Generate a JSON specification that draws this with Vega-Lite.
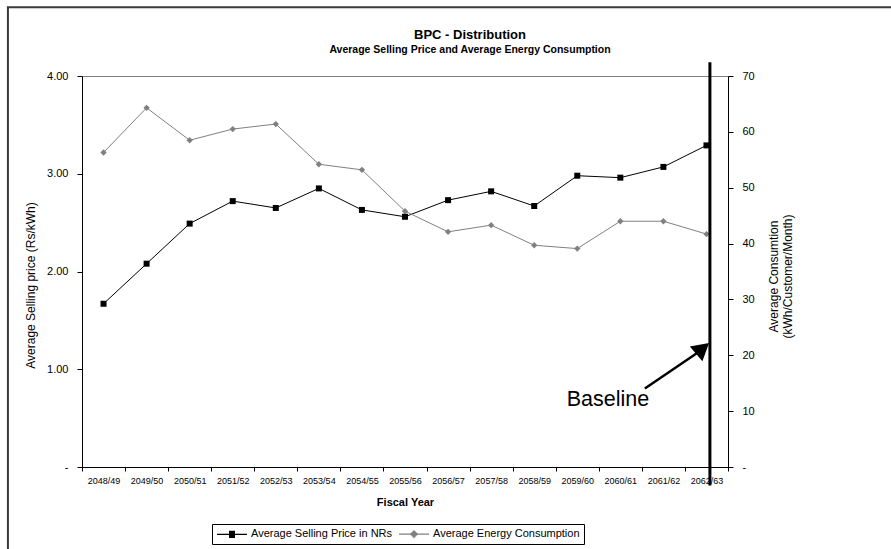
{
  "$schema": "https://vega.github.io/schema/vega-lite/v6.json",
  "autosize": "none",
  "width": 646,
  "height": 391,
  "padding": {"left": 82, "top": 76, "right": 163, "bottom": 82},
  "background": "white",
  "title": {
    "text": "BPC - Distribution",
    "subtitle": "Average Selling Price and Average Energy Consumption",
    "anchor": "middle",
    "dx": 65,
    "offset": -49,
    "font": "Liberation Sans",
    "fontSize": 13,
    "fontWeight": "bold",
    "color": "black",
    "subtitleFont": "Liberation Sans",
    "subtitleFontSize": 10.5,
    "subtitleFontWeight": "bold",
    "subtitleColor": "black",
    "subtitlePadding": 3
  },
  "datasets": {
    "series": [
      {"year": "2048/49", "price": 1.67, "consumption": 56.3},
      {"year": "2049/50", "price": 2.08, "consumption": 64.3},
      {"year": "2050/51", "price": 2.49, "consumption": 58.5},
      {"year": "2051/52", "price": 2.72, "consumption": 60.5},
      {"year": "2052/53", "price": 2.65, "consumption": 61.4},
      {"year": "2053/54", "price": 2.85, "consumption": 54.2},
      {"year": "2054/55", "price": 2.63, "consumption": 53.2},
      {"year": "2055/56", "price": 2.56, "consumption": 45.8},
      {"year": "2056/57", "price": 2.73, "consumption": 42.1},
      {"year": "2057/58", "price": 2.82, "consumption": 43.3},
      {"year": "2058/59", "price": 2.67, "consumption": 39.7},
      {"year": "2059/60", "price": 2.98, "consumption": 39.1},
      {"year": "2060/61", "price": 2.96, "consumption": 44.0},
      {"year": "2061/62", "price": 3.07, "consumption": 44.0},
      {"year": "2062/63", "price": 3.29, "consumption": 41.7}
    ],
    "legendItems": [
      {"series": "Average Selling Price in NRs"},
      {"series": "Average Energy Consumption"}
    ],
    "border": [{"x1": -1.72, "x2": 19.6, "y1": 4.703, "y2": -1.0}],
    "baseline": [{"x": 14.58, "y1": 4.14, "y2": -0.19}],
    "shaft": [{"x1": 13.07, "y1": 0.803, "x2": 14.30, "y2": 1.172}],
    "head": [{"x": 14.41, "y": 1.213}],
    "label": [{"x": 12.213, "y": 0.619, "text": "Baseline"}]
  },
  "config": {
    "font": "Liberation Sans",
    "view": {"stroke": "#808080", "strokeWidth": 1},
    "axis": {"domainColor": "black", "tickColor": "black", "labelColor": "black", "titleColor": "black", "grid": false, "labelFont": "Liberation Sans", "titleFont": "Liberation Sans"}
  },
  "resolve": {
    "scale": {"x": "independent", "y": "independent"},
    "axis": {"x": "independent", "y": "independent"}
  },
  "layer": [
    {
      "data": {"name": "border"},
      "mark": {"type": "rect", "filled": false, "stroke": "#3a3a3a", "strokeWidth": 2, "clip": false},
      "encoding": {
        "x": {"field": "x1", "type": "quantitative", "scale": {"domain": [0, 15], "nice": false, "zero": false}, "axis": null},
        "x2": {"field": "x2"},
        "y": {"field": "y1", "type": "quantitative", "scale": {"domain": [0, 4], "nice": false, "zero": false}, "axis": null},
        "y2": {"field": "y2"}
      }
    },
    {
      "data": {"name": "series"},
      "mark": {"type": "line", "color": "black", "strokeWidth": 1},
      "encoding": {
        "x": {"field": "year", "type": "nominal", "sort": null,
          "scale": {"type": "band", "paddingInner": 0, "paddingOuter": 0},
          "axis": {"title": "Fiscal Year", "orient": "bottom", "tickBand": "extent", "labelAngle": 0, "labelFontSize": 9, "labelOverlap": false, "tickSize": 4, "labelPadding": 5, "titleFontSize": 11, "titleFontWeight": "bold", "titlePadding": 11}},
        "y": {"field": "price", "type": "quantitative",
          "scale": {"domain": [0, 4], "nice": false},
          "axis": {"title": "Average Selling price (Rs/kWh)", "orient": "left", "values": [0, 1, 2, 3, 4], "labelExpr": "datum.value == 0 ? '-    ' : format(datum.value, '.2f')", "labelFontSize": 11, "tickSize": 5, "labelPadding": 9, "titleFontSize": 12, "titleFontWeight": "normal", "titleAngle": -90, "titleBaseline": "middle", "titleX": -52, "titleY": 209}}
      }
    },
    {
      "data": {"name": "series"},
      "mark": {"type": "line", "color": "#808080", "strokeWidth": 1},
      "encoding": {
        "x": {"field": "year", "type": "nominal", "sort": null,
          "scale": {"type": "band", "paddingInner": 0, "paddingOuter": 0}, "axis": null},
        "y": {"field": "consumption", "type": "quantitative",
          "scale": {"domain": [0, 70], "nice": false},
          "axis": {"title": ["Average Consumtion", "(kWh/Customer/Month)"], "orient": "right", "values": [0, 10, 20, 30, 40, 50, 60, 70], "labelExpr": "datum.value == 0 ? '-' : format(datum.value, 'd')", "labelFontSize": 11, "tickSize": 5, "labelPadding": 9, "titleFontSize": 12, "titleFontWeight": "normal", "titleAngle": -90, "titleBaseline": "middle", "titleAlign": "center", "titleX": 45, "titleY": 200, "titleLineHeight": 14}}
      }
    },
    {
      "data": {"name": "series"},
      "mark": {"type": "point", "shape": "diamond", "filled": true, "opacity": 1, "size": 40, "color": "#808080"},
      "encoding": {
        "x": {"field": "year", "type": "nominal", "sort": null,
          "scale": {"type": "band", "paddingInner": 0, "paddingOuter": 0}, "axis": null},
        "y": {"field": "consumption", "type": "quantitative",
          "scale": {"domain": [0, 70], "nice": false}, "axis": null}
      }
    },
    {
      "data": {"name": "series"},
      "mark": {"type": "point", "shape": "square", "filled": true, "opacity": 1, "size": 36, "color": "black"},
      "encoding": {
        "x": {"field": "year", "type": "nominal", "sort": null,
          "scale": {"type": "band", "paddingInner": 0, "paddingOuter": 0}, "axis": null},
        "y": {"field": "price", "type": "quantitative",
          "scale": {"domain": [0, 4], "nice": false}, "axis": null}
      }
    },
    {
      "data": {"name": "legendItems"},
      "mark": {"type": "point", "filled": false, "opacity": 0, "size": 100, "strokeWidth": 1.2},
      "encoding": {
        "stroke": {"field": "series", "type": "nominal", "sort": null,
          "scale": {"domain": ["Average Selling Price in NRs", "Average Energy Consumption"], "range": ["black", "#808080"]},
          "legend": {"orient": "none", "legendX": 130, "legendY": 448, "direction": "horizontal", "title": null,
            "strokeColor": "black", "padding": 4, "labelFont": "Liberation Sans", "labelFontSize": 11, "labelColor": "black",
            "symbolOpacity": 1, "symbolStrokeWidth": 1.2, "symbolOffset": 10, "labelOffset": 13, "columnPadding": 3}},
        "shape": {"field": "series", "type": "nominal", "sort": null,
          "scale": {"domain": ["Average Selling Price in NRs", "Average Energy Consumption"], "range": [
            "M-3,0H3M-0.6,-0.6H0.6M-0.6,-0.4H0.6M-0.6,-0.2H0.6M-0.6,0.2H0.6M-0.6,0.4H0.6M-0.6,0.6H0.6",
            "M-3,0H3M-0.1,-0.7H0.1M-0.3,-0.5H0.3M-0.5,-0.3H0.5M-0.7,-0.1H0.7M-0.7,0.1H0.7M-0.5,0.3H0.5M-0.3,0.5H0.3M-0.1,0.7H0.1"]}}
      }
    },
    {
      "data": {"name": "baseline"},
      "mark": {"type": "rule", "color": "black", "strokeWidth": 3, "clip": false},
      "encoding": {
        "x": {"field": "x", "type": "quantitative", "scale": {"domain": [0, 15], "nice": false, "zero": false}, "axis": null},
        "y": {"field": "y1", "type": "quantitative", "scale": {"domain": [0, 4], "nice": false, "zero": false}, "axis": null},
        "y2": {"field": "y2"}
      }
    },
    {
      "data": {"name": "shaft"},
      "mark": {"type": "rule", "color": "black", "strokeWidth": 2.5, "clip": false},
      "encoding": {
        "x": {"field": "x1", "type": "quantitative", "scale": {"domain": [0, 15], "nice": false, "zero": false}, "axis": null},
        "x2": {"field": "x2"},
        "y": {"field": "y1", "type": "quantitative", "scale": {"domain": [0, 4], "nice": false, "zero": false}, "axis": null},
        "y2": {"field": "y2"}
      }
    },
    {
      "data": {"name": "head"},
      "mark": {"type": "point", "shape": "triangle-up", "filled": true, "opacity": 1, "color": "black", "size": 380, "angle": 50},
      "encoding": {
        "x": {"field": "x", "type": "quantitative", "scale": {"domain": [0, 15], "nice": false, "zero": false}, "axis": null},
        "y": {"field": "y", "type": "quantitative", "scale": {"domain": [0, 4], "nice": false, "zero": false}, "axis": null}
      }
    },
    {
      "data": {"name": "label"},
      "mark": {"type": "text", "font": "Liberation Sans", "fontSize": 21.5, "color": "black", "align": "center", "baseline": "alphabetic"},
      "encoding": {
        "x": {"field": "x", "type": "quantitative", "scale": {"domain": [0, 15], "nice": false, "zero": false}, "axis": null},
        "y": {"field": "y", "type": "quantitative", "scale": {"domain": [0, 4], "nice": false, "zero": false}, "axis": null},
        "text": {"field": "text"}
      }
    }
  ]
}
